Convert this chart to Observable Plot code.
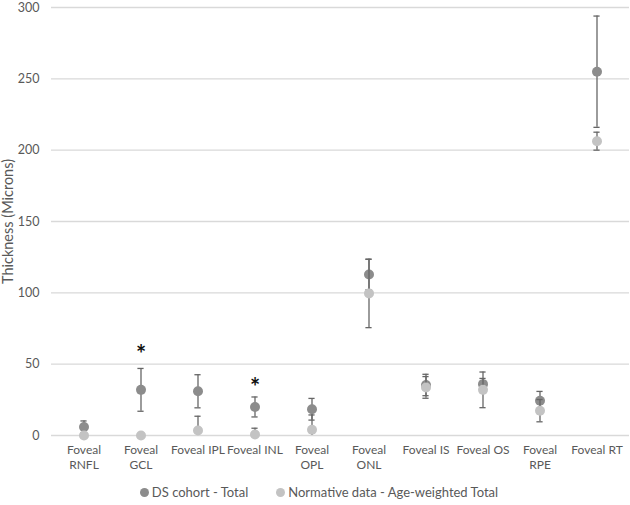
<!DOCTYPE html>
<html>
<head>
<meta charset="utf-8">
<script src="https://cdn.jsdelivr.net/npm/d3@7"></script>
<script src="https://cdn.jsdelivr.net/npm/@observablehq/plot@0.6"></script>
<style>
  body { margin: 0; background: #fff; font-family: Lato, "Open Sans", sans-serif; }
  #chart { width: 630px; }
  .legend { display: flex; justify-content: center; gap: 28px; font-size: 13px; color: #595959; margin-top: 9px; padding-left: 8px; }
  .legend span { display: inline-flex; align-items: center; }
  .legend i { display: inline-block; width: 9px; height: 9px; border-radius: 50%; margin-right: 3px; }
</style>
</head>
<body>
<div id="chart"></div>
<script>
const categories = ["Foveal\nRNFL", "Foveal\nGCL", "Foveal IPL", "Foveal INL", "Foveal\nOPL", "Foveal\nONL", "Foveal IS", "Foveal OS", "Foveal\nRPE", "Foveal RT"];
const dsMean = [6, 32, 31, 20, 18.4, 112.8, 35.4, 36, 24.4, 255];
const dsSD = [4.2, 15, 11.6, 7, 7.6, 10.7, 7.5, 4, 6.5, 39];
const normMean = [0, 0, 3.5, 0.7, 4, 99.6, 33.7, 32, 17.4, 206.3];
const normSD = [0, 0, 10, 4.4, 10.4, 24, 7.6, 12.5, 7.8, 6.3];
const sigCategories = ["Foveal\nGCL", "Foveal INL"];
const sigY = [60.5, 37];
const yTicks = [0, 50, 100, 150, 200, 250, 300];
const seriesNames = ["DS cohort - Total", "Normative data - Age-weighted Total"];
const seriesColors = ["#8c8c8c", "#c3c3c3"];

const ds = categories.map((c, i) => ({cat: c, m: dsMean[i], lo: dsMean[i] - dsSD[i], hi: dsMean[i] + dsSD[i], sd: dsSD[i]}));
const nm = categories.map((c, i) => ({cat: c, m: normMean[i], lo: normMean[i] - normSD[i], hi: normMean[i] + normSD[i], sd: normSD[i]}));
const sig = sigCategories.map((c, i) => ({cat: c, y: sigY[i]}));

function bars(data) {
  const d = data.filter(r => r.sd > 0);
  return [
    Plot.ruleX(d, {x: "cat", y1: "lo", y2: "hi", stroke: "#666", strokeWidth: 1.3, clip: true}),
    Plot.tickY(d, {x: "cat", y: "lo", stroke: "#666", strokeWidth: 1.3, insetLeft: 25.4, insetRight: 25.4, clip: true}),
    Plot.tickY(d, {x: "cat", y: "hi", stroke: "#666", strokeWidth: 1.3, insetLeft: 25.4, insetRight: 25.4, clip: true})
  ];
}

const chart = Plot.plot({
  width: 630,
  height: 475,
  marginLeft: 51,
  marginRight: 1,
  marginTop: 7,
  marginBottom: 40,
  style: {fontFamily: "Lato, 'Open Sans', sans-serif", fontSize: "12.5px", color: "#595959", background: "#fff", overflow: "visible"},
  x: {type: "band", domain: categories, paddingInner: 0, paddingOuter: 0},
  y: {domain: [0, 300]},
  marks: [
    Plot.ruleY(yTicks, {stroke: "#d9d9d9", strokeWidth: 1.3}),
    Plot.axisY({ticks: yTicks, tickSize: 0, tickPadding: 12, label: null, fontSize: 12.5}),
    Plot.text(["Thickness (Microns)"], {frameAnchor: "left", textAnchor: "middle", rotate: -90, dx: -43, fontSize: 14.5, fill: "#595959"}),
    Plot.axisX({tickSize: 0, tickPadding: 7, label: null, fontSize: 12, lineHeight: 1.3}),
    ...bars(ds),
    Plot.dot(ds, {x: "cat", y: "m", r: 5, fill: seriesColors[0]}),
    ...bars(nm),
    Plot.dot(nm, {x: "cat", y: "m", r: 5, fill: seriesColors[1]}),
    Plot.text(sig, {x: "cat", y: "y", text: () => "*", fontSize: 24, fontWeight: "bold", fill: "#111", dy: 6})
  ]
});
document.getElementById("chart").appendChild(chart);

const legend = document.createElement("div");
legend.className = "legend";
seriesNames.forEach((n, i) => {
  const s = document.createElement("span");
  const dot = document.createElement("i");
  dot.style.background = seriesColors[i];
  s.appendChild(dot);
  s.appendChild(document.createTextNode(n));
  legend.appendChild(s);
});
document.getElementById("chart").appendChild(legend);
</script>
</body>
</html>
